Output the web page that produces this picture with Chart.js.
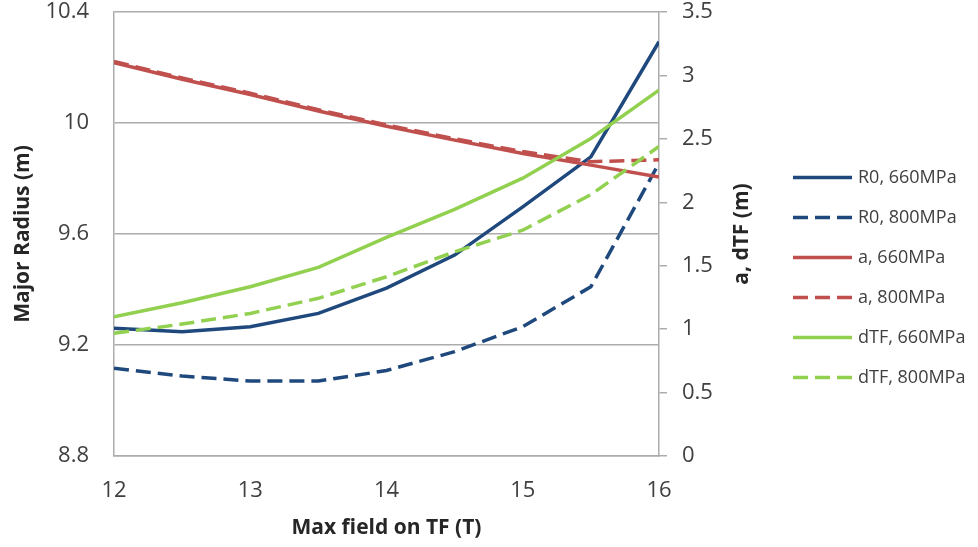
<!DOCTYPE html>
<html>
<head>
<meta charset="utf-8">
<script src="https://cdn.jsdelivr.net/npm/chart.js@4.4.1/dist/chart.umd.min.js"></script>
<style>
  html, body { margin: 0; padding: 0; background: #fff; }
</style>
</head>
<body>
<canvas id="tfChart" width="978" height="547"></canvas>
<script>
// Max field on TF (T)
const fieldT = [12, 12.5, 13, 13.5, 14, 14.5, 15, 15.5, 16];

// Major radius R0 (left axis, m)
const r0_660 = [9.26, 9.248, 9.266, 9.314, 9.405, 9.524, 9.698, 9.878, 10.293];
const r0_800 = [9.116, 9.088, 9.07, 9.07, 9.108, 9.176, 9.266, 9.41, 9.855];

// a and dTF (right axis, m)
const a_660 = [3.10, 2.97, 2.85, 2.72, 2.60, 2.49, 2.385, 2.293, 2.20];
const a_800 = [3.11, 2.98, 2.86, 2.73, 2.61, 2.50, 2.40, 2.32, 2.335];
const dtf_660 = [1.098, 1.208, 1.334, 1.487, 1.723, 1.944, 2.19, 2.503, 2.884];
const dtf_800 = [0.967, 1.04, 1.124, 1.243, 1.413, 1.61, 1.78, 2.06, 2.44];

const leftTickLabels = ['8.8', '9.2', '9.6', '10', '10.4'];
const rightTickLabels = ['0', '0.5', '1', '1.5', '2', '2.5', '3', '3.5'];
const xTickLabels = ['12', '13', '14', '15', '16'];

const FONT = "'Open Sans', sans-serif";
const GRID = '#acacac';
const TICK_COLOR = '#404040';
const TITLE_COLOR = '#262626';
const BLUE = '#1f497d';
const RED = '#c0504d';
const GREEN = '#92d050';
const DASH = [15, 7];

function pts(ys) {
    return fieldT.map((x, i) => ({x: x, y: ys[i]}));
}

function series(label, ys, color, dashed, axis, idx) {
    return {
        label: label,
        data: pts(ys),
        yAxisID: axis,
        borderColor: color,
        backgroundColor: color,
        borderWidth: 3.5,
        borderDash: dashed ? DASH : [],
        pointRadius: 0,
        tension: 0,
        fill: false,
        order: 10 - idx // later series drawn on top, like Excel
    };
}

// tick padding in chart.js also pads the chart area; drop that
function noEdgePad(s) {
    s.paddingTop = 0;
    s.paddingBottom = 0;
    s.paddingLeft = 0;
    s.paddingRight = 0;
}

// Right axis title reads bottom-to-top, so draw it here
const rightTitle = {
    id: 'rightTitle',
    afterDraw(chart) {
        const s = chart.scales.y1;
        const ctx = chart.ctx;
        ctx.save();
        ctx.translate(s.left + 83, (s.top + s.bottom) / 2);
        ctx.rotate(-Math.PI / 2);
        ctx.font = "bold 21px " + FONT;
        ctx.fillStyle = TITLE_COLOR;
        ctx.textAlign = 'center';
        ctx.textBaseline = 'middle';
        ctx.fillText('a, dTF (m)', 0, 0);
        ctx.restore();
    }
};

// Legend with line samples (built-in one drops the dashes with pointStyle)
const sideLegend = {
    id: 'sideLegend',
    afterDraw(chart) {
        const ctx = chart.ctx;
        const sets = chart.data.datasets;
        const x0 = chart.scales.y1.right + 25;
        const gap = 40;
        let y = chart.height / 2 + 4 - gap * (sets.length - 1) / 2;
        sets.forEach(ds => {
            ctx.save();
            ctx.strokeStyle = ds.borderColor;
            ctx.lineWidth = ds.borderWidth;
            ctx.setLineDash(ds.borderDash);
            ctx.beginPath();
            ctx.moveTo(x0, y);
            ctx.lineTo(x0 + 59, y);
            ctx.stroke();
            ctx.setLineDash([]);
            ctx.fillStyle = TICK_COLOR;
            ctx.font = "18px " + FONT;
            ctx.textBaseline = 'middle';
            ctx.fillText(ds.label, x0 + 65, y);
            ctx.restore();
            y += gap;
        });
    }
};

new Chart(document.getElementById('tfChart'), {
    type: 'line',
    data: {
        datasets: [
            series('R0, 660MPa', r0_660, BLUE, false, 'y', 0),
            series('R0, 800MPa', r0_800, BLUE, true, 'y', 1),
            series('a, 660MPa', a_660, RED, false, 'y1', 2),
            series('a, 800MPa', a_800, RED, true, 'y1', 3),
            series('dTF, 660MPa', dtf_660, GREEN, false, 'y1', 4),
            series('dTF, 800MPa', dtf_800, GREEN, true, 'y1', 5)
        ]
    },
    options: {
        responsive: false,
        animation: false,
        layout: {padding: {top: 12, right: 210, left: 0, bottom: 0}},
        plugins: {
            tooltip: {enabled: false},
            legend: {display: false}
        },
        scales: {
            x: {
                type: 'linear',
                min: 12, max: 16,
                afterFit: s => { s.height = 91; noEdgePad(s); },
                ticks: {
                    stepSize: 1,
                    padding: 14,
                    color: TICK_COLOR,
                    font: {family: FONT, size: 22},
                    callback: (v, i) => xTickLabels[i]
                },
                grid: {display: false},
                border: {display: true, color: GRID, width: 1.5},
                title: {
                    display: true,
                    text: 'Max field on TF (T)',
                    color: TITLE_COLOR,
                    font: {family: FONT, size: 21, weight: 'bold'},
                    padding: {top: 0, bottom: 6}
                }
            },
            y: {
                position: 'left',
                min: 8.8, max: 10.4,
                afterFit: s => { s.width = 114; noEdgePad(s); },
                ticks: {
                    stepSize: 0.4,
                    padding: 25,
                    color: TICK_COLOR,
                    font: {family: FONT, size: 22},
                    callback: (v, i) => leftTickLabels[i]
                },
                grid: {color: GRID, lineWidth: 1.5, drawTicks: false},
                border: {display: true, color: GRID, width: 1.5},
                title: {
                    display: true,
                    text: 'Major Radius (m)',
                    color: TITLE_COLOR,
                    font: {family: FONT, size: 21, weight: 'bold'},
                    padding: {top: 10, bottom: 0}
                }
            },
            y1: {
                position: 'right',
                min: 0, max: 3.5,
                afterFit: s => { s.width = 109; noEdgePad(s); },
                ticks: {
                    stepSize: 0.5,
                    padding: 15,
                    color: TICK_COLOR,
                    font: {family: FONT, size: 22},
                    callback: (v, i) => rightTickLabels[i]
                },
                grid: {drawOnChartArea: false, drawTicks: true, tickLength: 8, color: GRID, lineWidth: 1.5},
                border: {display: true, color: GRID, width: 1.5}
            }
        }
    },
    plugins: [rightTitle, sideLegend]
});
</script>
</body>
</html>
